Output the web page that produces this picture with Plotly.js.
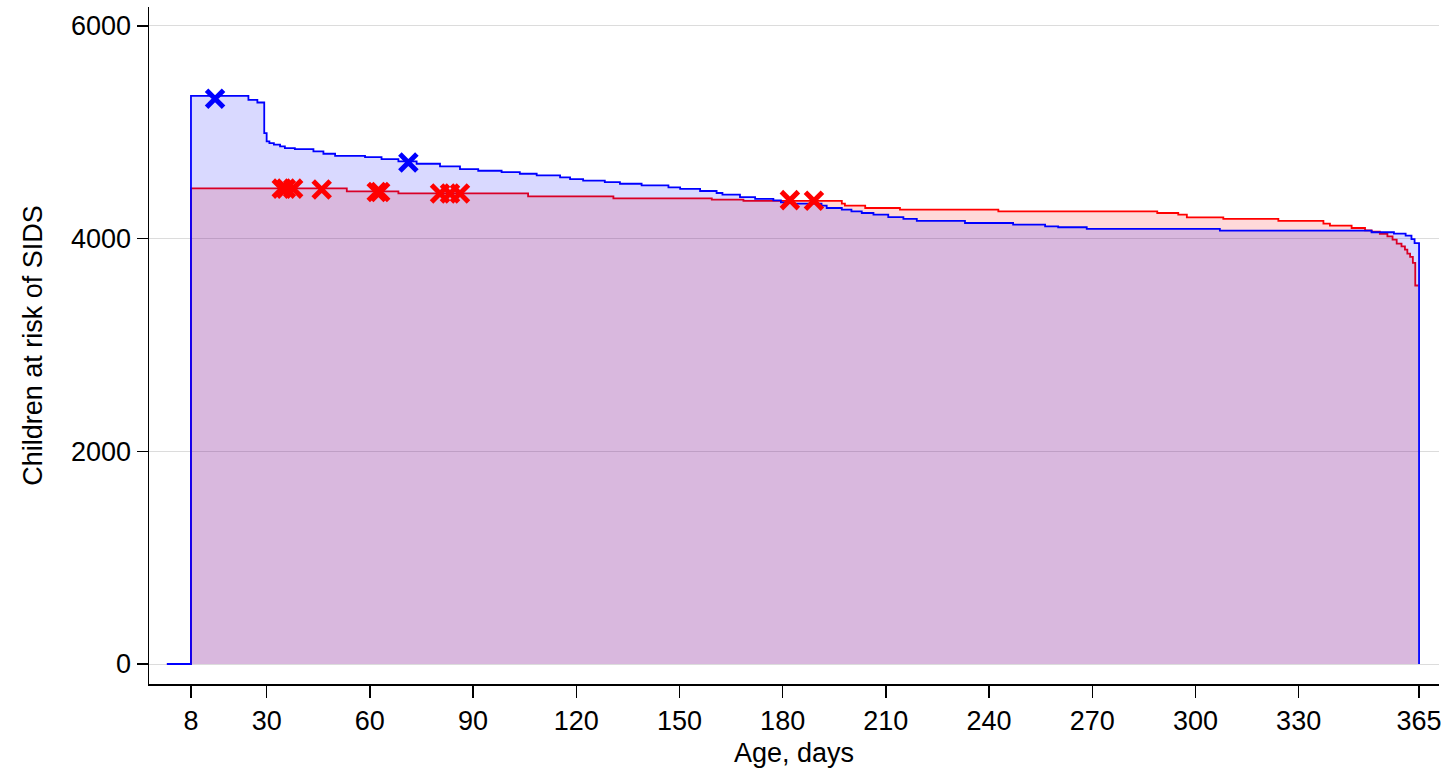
<!DOCTYPE html>
<html>
<head>
<meta charset="utf-8">
<script src="https://cdn.plot.ly/plotly-3.0.1.min.js"></script>
<style>html,body{margin:0;padding:0;background:#fff;}#chart{width:1448px;height:770px;}</style>
</head>
<body>
<div id="chart"></div>
<script>
// Blue group: step curve of children at risk (day, count)
const blueDays = [1, 8, 24.7, 27.3, 29.3, 30, 30.8, 32.1, 33.9, 35.3, 38.2, 43.6, 46.5, 49.9, 58.6, 63.4, 68.3, 73.6, 80.4, 86.2, 91.5, 98.3, 103.6, 108.5, 115.3, 118.2, 122, 128.3, 132.7, 139, 146.8, 150.2, 156, 160.8, 162.5, 167.6, 172, 177.3, 179.5, 183.1, 191.3, 192.8, 197.2, 200, 203, 206.4, 210.7, 215.1, 219, 233, 247, 256.3, 260.1, 268.4, 307.1, 351.2, 357.7, 361.1, 362.8, 363.7, 365];
const blueAtRisk = [0, 5343, 5305, 5280, 4992, 4914, 4898, 4883, 4867, 4851, 4842, 4820, 4798, 4779, 4767, 4748, 4726, 4704, 4679, 4654, 4638, 4626, 4610, 4595, 4576, 4560, 4545, 4532, 4516, 4501, 4482, 4467, 4448, 4429, 4413, 4391, 4373, 4360, 4341, 4329, 4310, 4288, 4272, 4257, 4241, 4225, 4203, 4185, 4166, 4147, 4131, 4116, 4107, 4092, 4075, 4060, 4047, 4028, 3996, 3958, 0];

// Red group
const redDays = [1, 8, 53.3, 68.3, 106, 130.8, 159.4, 168.6, 197.2, 198.1, 204, 214.1, 242.7, 288.9, 295, 297.5, 308.1, 324.1, 337.2, 339.1, 345.4, 349.3, 351.2, 353.6, 355.8, 357.3, 358.5, 359.9, 360.9, 361.6, 362.4, 363.2, 363.9, 364.8];
const redAtRisk = [0, 4473, 4444, 4425, 4398, 4379, 4366, 4355, 4329, 4310, 4288, 4272, 4257, 4241, 4225, 4200, 4185, 4166, 4141, 4122, 4100, 4078, 4066, 4044, 4022, 3991, 3953, 3928, 3897, 3859, 3828, 3772, 3559, 3559];

// SIDS events (day, at-risk count)
const blueEventDays = [15, 71.2];
const blueEventAtRisk = [5315, 4715];
const redEventDays = [34.4, 35.6, 37.7, 46, 62, 63, 80.4, 83.3, 86.2, 182.1, 189.1];
const redEventAtRisk = [4470, 4470, 4470, 4462, 4438, 4438, 4425, 4425, 4425, 4362, 4357];

const xTicks = [8, 30, 60, 90, 120, 150, 180, 210, 240, 270, 300, 330, 365];
const yTicks = [0, 2000, 4000, 6000];

const FONT = 'Arial, "Liberation Sans", Helvetica, sans-serif';

const traces = [
  {x: redDays, y: redAtRisk, type: 'scatter', mode: 'lines', line: {shape: 'hv', color: '#ff0000', width: 1.8}, fill: 'tozeroy', fillcolor: 'rgba(255,0,0,0.15)', hoverinfo: 'skip'},
  {x: blueDays, y: blueAtRisk, type: 'scatter', mode: 'lines', line: {shape: 'hv', color: '#0000ff', width: 1.8}, fill: 'tozeroy', fillcolor: 'rgba(0,0,255,0.15)', hoverinfo: 'skip'},
  {x: redEventDays, y: redEventAtRisk, type: 'scatter', mode: 'markers', marker: {symbol: 'x-thin', size: 17, color: '#ff0000', line: {color: '#ff0000', width: 5}}},
  {x: blueEventDays, y: blueEventAtRisk, type: 'scatter', mode: 'markers', marker: {symbol: 'x-thin', size: 17, color: '#0000ff', line: {color: '#0000ff', width: 5}}}
];

const layout = {
  width: 1448, height: 770,
  margin: {l: 149, r: 9, t: 7, b: 86},
  paper_bgcolor: '#ffffff', plot_bgcolor: '#ffffff',
  showlegend: false,
  font: {family: FONT, size: 27, color: '#000'},
  xaxis: {
    range: [-4.2, 370.8],
    tickvals: xTicks, ticktext: xTicks.map(String),
    ticks: 'outside', ticklen: 12, tickwidth: 1.5, tickcolor: '#000',
    showline: true, linecolor: '#000', linewidth: 1.5,
    showgrid: false, zeroline: false,
    tickfont: {family: FONT, size: 27, color: '#000'},
    title: {text: 'Age, days', font: {family: FONT, size: 27, color: '#000'}, standoff: 8}
  },
  yaxis: {
    range: [-188, 6178],
    tickvals: yTicks, ticktext: yTicks.map(String),
    ticks: 'outside', ticklen: 11, tickwidth: 1.5, tickcolor: '#000',
    showline: true, linecolor: '#000', linewidth: 1.5,
    showgrid: true, gridcolor: '#dcdcdc', gridwidth: 1, zeroline: false,
    tickfont: {family: FONT, size: 27, color: '#000'},
    title: {text: 'Children at risk of SIDS', font: {family: FONT, size: 27, color: '#000'}, standoff: 20}
  }
};

Plotly.newPlot('chart', traces, layout, {displayModeBar: false, staticPlot: true});
</script>
</body>
</html>
